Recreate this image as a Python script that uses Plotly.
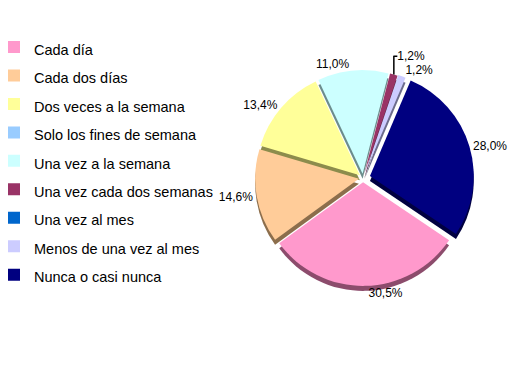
import plotly.graph_objects as go

categories = ["Cada día", "Cada dos días", "Dos veces a la semana", "Solo los fines de semana",
              "Una vez a la semana", "Una vez cada dos semanas", "Una vez al mes",
              "Menos de una vez al mes", "Nunca o casi nunca"]
values = [30.5, 14.6, 13.4, 0.0, 11.0, 1.2, 0.0, 1.2, 28.0]
colors = ["#FF99CC", "#FFCC99", "#FFFF99", "#99CCFF", "#CCFFFF", "#993366", "#0066CC", "#CCCCFF", "#000080"]
depth_colors = ["#8C4C6C", "#8C6E4C", "#8C8C4C", "#4C6C8C", "#6C8C8C", "#4C1A33", "#003366", "#6C6C8C", "#000040"]
pulls = [0.04, 0.04, 0.04, 0.04, 0.04, 0.04, 0.04, 0.05, 0.07]

W, H = 530, 365
cx, cy, box = 355, 170, 222
depth = 5

def dom(dy=0):
    return dict(x=[(cx - box / 2) / W, (cx + box / 2) / W],
                y=[(H - cy - dy - box / 2) / H, (H - cy - dy + box / 2) / H])

labels = ['<span style="font-size:14.5px">%s</span>' % c for c in categories]
texts = [("%.1f%%" % v).replace(".", ",") if v > 0 else "" for v in values]

fig = go.Figure()
fig.add_trace(go.Pie(
    labels=labels, values=values, sort=False, direction="clockwise", rotation=124,
    pull=pulls, domain=dom(depth), marker=dict(colors=depth_colors, line=dict(width=0)),
    textinfo="none", hoverinfo="skip", showlegend=False))
fig.add_trace(go.Pie(
    labels=labels, values=values, sort=False, direction="clockwise", rotation=124,
    pull=pulls, domain=dom(0), marker=dict(colors=colors, line=dict(width=0)),
    text=texts, textinfo="text", textposition="outside",
    outsidetextfont=dict(family="Liberation Sans, Arial", size=12, color="black"),
    showlegend=True))

fig.update_layout(
    width=W, height=H, margin=dict(l=0, r=0, t=0, b=0, autoexpand=False),
    paper_bgcolor="white", plot_bgcolor="white",
    font=dict(family="Liberation Sans, Arial", color="black"),
    legend=dict(x=-14 / W, y=0.946, xanchor="left", yanchor="top",
                font=dict(family="Liberation Sans, Arial", size=19.6, color="black"),
                bgcolor="rgba(0,0,0,0)", borderwidth=0),
)
fig.write_html("out.html")
